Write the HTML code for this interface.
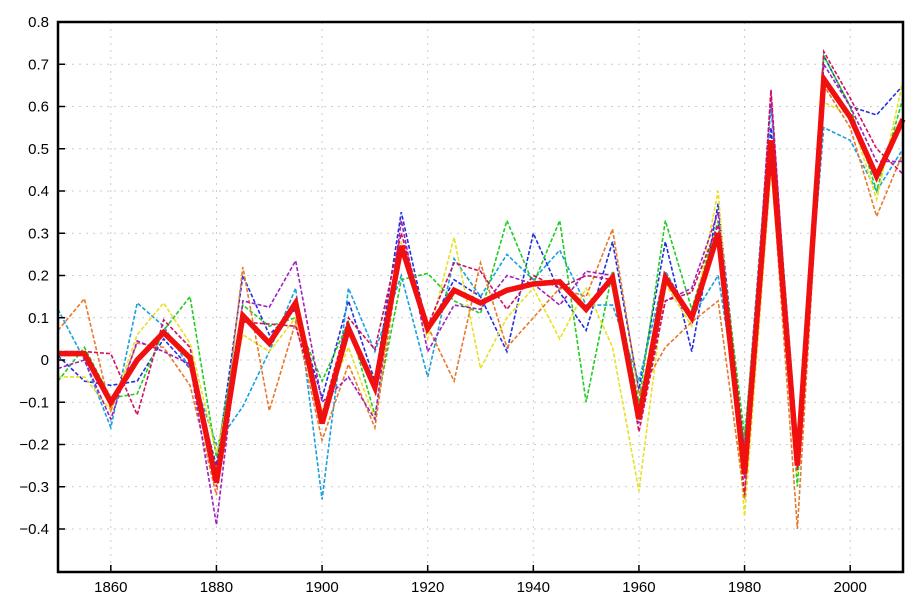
<!DOCTYPE html>
<html><head><meta charset="utf-8"><style>
html,body{margin:0;padding:0;background:#fff;}
svg{display:block;font-family:"Liberation Sans",Arial,sans-serif;}
</style></head><body>
<svg id="chart" width="920" height="607" viewBox="0 0 920 607"></svg>
<script>
const years=[1850,1855,1860,1865,1870,1875,1880,1885,1890,1895,1900,1905,1910,1915,1920,1925,1930,1935,1940,1945,1950,1955,1960,1965,1970,1975,1980,1985,1990,1995,2000,2005,2010];
const xTicks=[1860,1880,1900,1920,1940,1960,1980,2000];
const yTicks=[-0.4,-0.3,-0.2,-0.1,0,0.1,0.2,0.3,0.4,0.5,0.6,0.7,0.8];
const yTickLabels=["−0.4","−0.3","−0.2","−0.1","0","0.1","0.2","0.3","0.4","0.5","0.6","0.7","0.8"];
const blueSeries=[0.01,-0.05,-0.06,-0.05,0.05,-0.02,-0.25,0.20,0.06,0.12,-0.09,0.14,-0.05,0.35,0.07,0.19,0.15,0.02,0.30,0.16,0.07,0.28,-0.07,0.28,0.02,0.37,-0.22,0.55,-0.25,0.72,0.60,0.58,0.65];
const cyanSeries=[0.12,0.0,-0.16,0.135,0.08,-0.02,-0.20,-0.11,0.02,0.17,-0.33,0.17,0.02,0.20,-0.04,0.24,0.15,0.25,0.19,0.26,0.13,0.13,-0.05,0.21,0.10,0.20,-0.20,0.60,-0.20,0.55,0.52,0.40,0.50];
const greenSeries=[-0.05,0.03,-0.09,-0.08,0.07,0.15,-0.23,0.13,0.08,0.10,-0.05,0.09,-0.13,0.19,0.205,0.14,0.11,0.33,0.18,0.33,-0.10,0.21,-0.10,0.33,0.12,0.33,-0.18,0.50,-0.30,0.72,0.60,0.40,0.62];
const yellowSeries=[-0.04,-0.04,-0.12,0.06,0.135,0.04,-0.22,0.06,0.02,0.10,-0.12,0.03,-0.14,0.28,0.05,0.29,-0.02,0.10,0.17,0.05,0.17,0.03,-0.31,0.18,0.08,0.40,-0.37,0.45,-0.27,0.61,0.58,0.38,0.66];
const orangeSeries=[0.07,0.145,-0.12,0.04,0.03,-0.06,-0.32,0.22,-0.12,0.09,-0.19,-0.01,-0.16,0.27,0.08,-0.05,0.23,0.03,0.10,0.17,0.15,0.31,-0.08,0.03,0.09,0.14,-0.33,0.48,-0.40,0.65,0.55,0.34,0.49];
const purpleSeries=[-0.02,0.0,-0.14,0.045,0.02,-0.01,-0.39,0.14,0.125,0.235,-0.10,-0.04,-0.14,0.33,0.02,0.13,0.12,0.20,0.18,0.13,0.21,0.20,-0.15,0.14,0.17,0.35,-0.28,0.63,-0.26,0.70,0.60,0.47,0.47];
const crimsonSeries=[0.02,0.02,0.015,-0.13,0.095,0.03,-0.30,0.09,0.085,0.08,-0.13,0.10,0.025,0.30,0.08,0.23,0.21,0.12,0.20,0.17,0.20,0.19,-0.17,0.14,0.16,0.32,-0.32,0.64,-0.26,0.73,0.62,0.50,0.44];
const meanSeries=[0.015,0.015,-0.10,0.0,0.065,0.005,-0.29,0.105,0.04,0.135,-0.15,0.075,-0.065,0.27,0.075,0.165,0.135,0.165,0.18,0.185,0.12,0.195,-0.14,0.195,0.10,0.30,-0.27,0.52,-0.25,0.665,0.575,0.435,0.57];

const L=58,R=903,T=22,B=572;
const xMin=1850,xMax=2010;
function x(v){return L+(v-xMin)/(xMax-xMin)*(R-L);}
function y(v){return 360-v*422.5;}
const svg=document.getElementById('chart');
const NS='http://www.w3.org/2000/svg';
function mk(tag,attrs,parent){const e=document.createElementNS(NS,tag);for(const k in attrs)e.setAttribute(k,attrs[k]);(parent||svg).appendChild(e);return e;}

const grid=mk('g',{});


xTicks.forEach(t=>{const l=mk('line',{x1:x(t),x2:x(t),y1:T,y2:B,stroke:'#ccc','stroke-dasharray':'2,5','stroke-width':1},grid);

});
yTicks.forEach(t=>{const l=mk('line',{x1:L,x2:R,y1:y(t),y2:y(t),stroke:'#ccc','stroke-dasharray':'2,5','stroke-width':1},grid);

});

const series=[[blueSeries,'#2030e0','blue'],[cyanSeries,'#18a0e0','cyan'],[greenSeries,'#20cc20','green'],[yellowSeries,'#e8e020','yellow'],[orangeSeries,'#e8782a','orange'],[purpleSeries,'#a020c0','purple'],[crimsonSeries,'#d01060','crimson']];
series.forEach(s=>{
 const p=mk('polyline',{points:years.map((yr,i)=>x(yr)+','+y(s[0][i])).join(' '),fill:'none',stroke:s[1],'stroke-width':1.6,'stroke-dasharray':'4,2'});
 
 
});
const m=mk('polyline',{points:years.map((yr,i)=>x(yr)+','+y(meanSeries[i])).join(' '),fill:'none',stroke:'#f01010','stroke-width':5.5,'stroke-linejoin':'miter'});



const frame=mk('rect',{x:L,y:T,width:R-L,height:B-T,fill:'none',stroke:'#000','stroke-width':2.5});



xTicks.forEach(t=>{
 const k=mk('line',{x1:x(t),x2:x(t),y1:B,y2:B-7,stroke:'#000','stroke-width':1.5});
 
 
 const tx=mk('text',{x:x(t),y:B+20,'text-anchor':'middle','font-size':15,fill:'#000'});
 tx.textContent=t;
 
 
});
yTicks.forEach((t,i)=>{
 const k=mk('line',{x1:L,x2:L+7,y1:y(t),y2:y(t),stroke:'#000','stroke-width':1.5});
 
 
 const tx=mk('text',{x:L-9,y:y(t)+5,'text-anchor':'end','font-size':15,fill:'#000'});
 tx.textContent=yTickLabels[i];
 
 
});
</script>
</body></html>
